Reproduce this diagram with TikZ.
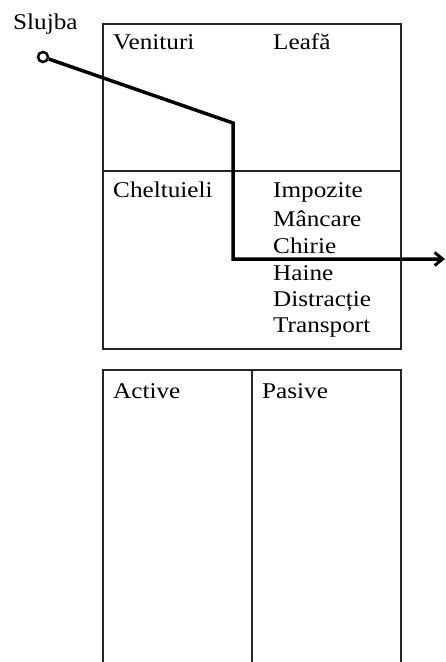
\documentclass[tikz,border=0pt]{standalone}
\usepackage{fontspec}
\setmainfont[FakeStretch=1.12]{Liberation Serif}
\usetikzlibrary{arrows.meta}
\begin{document}
\begin{tikzpicture}[x=1pt,y=-1pt,
  boxline/.style={line width=2pt, draw=black!85},
  lbl/.style={anchor=base west, inner sep=0pt, font=\fontsize{22.5}{27}\selectfont},
  conn/.style={line width=3.5pt, line join=miter, -{Straight Barb[length=8pt,width=13pt,line width=3pt]}}]
\useasboundingbox (0,0) rectangle (446,662);
% top box
\draw[boxline] (103,24) rectangle (401,349);
\draw[boxline] (103,171) -- (401,171);
% bottom box (open at the bottom)
\draw[boxline] (103,663) -- (103,370) -- (401,370) -- (401,663);
\draw[boxline] (252,370) -- (252,663);
% labels
\node[lbl] (slujba) at (13,29) {Slujba};
\node[lbl] (venituri) at (113,49) {Venituri};
\node[lbl] (leafa) at (273,49) {Leafă};
\node[lbl] (chelt) at (113,197) {Cheltuieli};
\node[lbl] (impozite) at (273,197) {Impozite};
\node[lbl] (mancare) at (273,226) {Mâncare};
\node[lbl] (chirie) at (273,253) {Chirie};
\node[lbl] (haine) at (273,280) {Haine};
\node[lbl] (distr) at (273,306) {Distracție};
\node[lbl] (transp) at (273,332) {Transport};
\node[lbl] (active) at (113,398) {Active};
\node[lbl] (pasive) at (262,398) {Pasive};
% connector
\node[circle, draw, line width=2.5pt, inner sep=0pt, minimum size=10pt] (dot) at (43,57) {};
\coordinate (c1) at (233,123);
\coordinate (c2) at (233,259);
\coordinate (tip) at (445,259);
\draw[conn] (dot) -- (c1) -- (c2) -- (tip);
\end{tikzpicture}
\end{document}
